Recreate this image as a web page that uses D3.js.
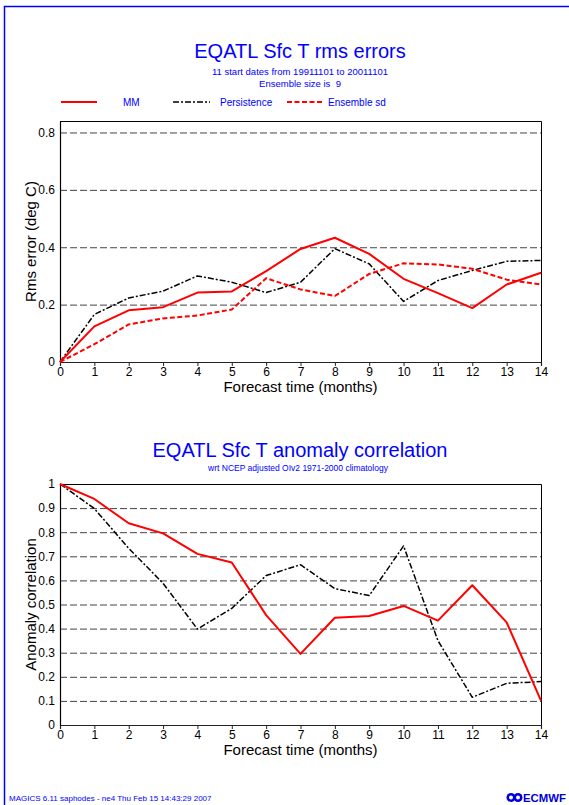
<!DOCTYPE html>
<html>
<head>
<meta charset="utf-8">
<script src="https://cdn.jsdelivr.net/npm/d3@7"></script>
<style>
  html, body { margin: 0; padding: 0; background: #fff; }
  svg { display: block; font-family: "Liberation Sans", Arial, sans-serif; }
</style>
</head>
<body>
<svg id="chart" width="569" height="805"></svg>
<script>
// ---- data ----
const months = [0, 1, 2, 3, 4, 5, 6, 7, 8, 9, 10, 11, 12, 13, 14];
const rmsMM          = [0, 0.124, 0.180, 0.191, 0.242, 0.246, 0.317, 0.394, 0.433, 0.377, 0.290, 0.240, 0.188, 0.270, 0.311];
const rmsPersistence = [0, 0.166, 0.223, 0.247, 0.300, 0.278, 0.242, 0.278, 0.395, 0.342, 0.211, 0.284, 0.319, 0.351, 0.354];
const rmsEnsembleSd  = [0, 0.062, 0.131, 0.152, 0.162, 0.183, 0.292, 0.253, 0.230, 0.307, 0.344, 0.340, 0.325, 0.287, 0.270];
const acMM           = [1, 0.938, 0.837, 0.795, 0.710, 0.674, 0.456, 0.295, 0.445, 0.452, 0.494, 0.433, 0.580, 0.426, 0.101];
const acPersistence  = [1, 0.898, 0.733, 0.588, 0.398, 0.484, 0.620, 0.665, 0.566, 0.537, 0.743, 0.350, 0.115, 0.173, 0.180];
const rmsTicks = [0, 0.2, 0.4, 0.6, 0.8];
const rmsTickLabels = ["0", "0.2", "0.4", "0.6", "0.8"];
const acTicks = [0, 0.1, 0.2, 0.3, 0.4, 0.5, 0.6, 0.7, 0.8, 0.9, 1];
const acTickLabels = ["0", "0.1", "0.2", "0.3", "0.4", "0.5", "0.6", "0.7", "0.8", "0.9", "1"];
const legendNames = ["MM", "Persistence", "Ensemble sd"];

const svg = d3.select("#chart");
const BLUE = "#0000ff";
const styles = {
  mm:   { stroke: "#ff0000", width: 2,   dash: null },
  pers: { stroke: "#000000", width: 1.5, dash: "6,2,2,2" },
  sd:   { stroke: "#ff0000", width: 2,   dash: "5,2.5" }
};

// page frame
svg.append("path").attr("d", "M4.5,805 L4.5,6.5 L569,6.5")
  .attr("fill", "none").attr("stroke", BLUE).attr("stroke-width", 1.5);

function panel(opts) {
  const { top, bottom, left, right, yDomain, ticks, tickLabels, series, yTitle } = opts;
  const x = d3.scaleLinear().domain([0, 14]).range([left, right]);
  const y = d3.scaleLinear().domain(yDomain).range([bottom, top]);
  const g = svg.append("g");

  // grid
  g.selectAll(".grid").data(ticks.filter(t => t > 0 && y(t) > top + 1)).enter()
    .append("line")
    .attr("x1", left).attr("x2", right)
    .attr("y1", d => y(d) + 0.5).attr("y2", d => y(d) + 0.5)
    .attr("stroke", "#444").attr("stroke-width", 1).attr("stroke-dasharray", "7,3");

  // frame top/right
  g.append("path")
    .attr("d", `M${left},${top + 0.5} L${right + 0.5},${top + 0.5} L${right + 0.5},${bottom}`)
    .attr("fill", "none").attr("stroke", "#000").attr("stroke-width", 1);

  // x axis
  const xAxis = d3.axisBottom(x).tickValues(months).tickFormat(d3.format("d")).tickSize(4).tickPadding(1);
  const xa = g.append("g").attr("transform", `translate(0,${bottom})`).call(xAxis);
  xa.select(".domain").attr("stroke", "#222").attr("stroke-width", 1.2);
  xa.selectAll(".tick line").attr("stroke", "#222");
  xa.selectAll("text").attr("font-size", 12).attr("fill", "#000")
    .attr("font-family", "'Liberation Sans', Arial, sans-serif");

  // y axis
  const yAxis = d3.axisLeft(y).tickValues(ticks).tickFormat((d, i) => tickLabels[i]).tickSize(0).tickPadding(5);
  const ya = g.append("g").attr("transform", `translate(${left},0)`).call(yAxis);
  ya.select(".domain").attr("stroke", "#000").attr("stroke-width", 1.2);
  ya.selectAll("text").attr("font-size", 12).attr("fill", "#000")
    .attr("font-family", "'Liberation Sans', Arial, sans-serif");

  // series
  series.forEach(s => {
    const line = d3.line().x((d, i) => x(months[i])).y(d => y(d));
    g.append("path").datum(s.values)
      .attr("d", line).attr("fill", "none")
      .attr("stroke", s.style.stroke).attr("stroke-width", s.style.width)
      .attr("stroke-dasharray", s.style.dash)
      .attr("stroke-linejoin", "round");
  });

  // axis titles
  g.append("text").attr("x", (left + right) / 2).attr("y", bottom + 30)
    .attr("text-anchor", "middle").attr("font-size", 15).attr("fill", "#000")
    .text("Forecast time (months)");
  g.append("text")
    .attr("transform", `translate(36,${(top + bottom) / 2}) rotate(-90)`)
    .attr("text-anchor", "middle").attr("font-size", 15).attr("fill", "#000")
    .text(yTitle);
  return { x, y };
}

// ---- top panel ----
svg.append("text").attr("x", 300).attr("y", 58).attr("text-anchor", "middle")
  .attr("font-size", 20).attr("fill", BLUE).text("EQATL Sfc T rms errors");
svg.append("text").attr("x", 300).attr("y", 75).attr("text-anchor", "middle")
  .attr("font-size", 9.5).attr("fill", BLUE).text("11 start dates from 19911101 to 20011101");
svg.append("text").attr("x", 300).attr("y", 86.5).attr("text-anchor", "middle")
  .attr("font-size", 9.5).attr("fill", BLUE).attr("xml:space", "preserve").text("Ensemble size is  9");

// legend
const legendItems = [
  { name: legendNames[0], style: styles.mm,   x1: 61,  x2: 97,  tx: 123 },
  { name: legendNames[1], style: styles.pers, x1: 173, x2: 210, tx: 220 },
  { name: legendNames[2], style: styles.sd,   x1: 287, x2: 323, tx: 328 }
];
const lg = svg.append("g");
legendItems.forEach(it => {
  lg.append("line").attr("x1", it.x1).attr("x2", it.x2).attr("y1", 102).attr("y2", 102)
    .attr("stroke", it.style.stroke).attr("stroke-width", it.style.width)
    .attr("stroke-dasharray", it.style.dash);
  lg.append("text").attr("x", it.tx).attr("y", 106).attr("font-size", 10)
    .attr("fill", BLUE).text(it.name);
});

panel({
  top: 121, bottom: 362, left: 60, right: 541,
  yDomain: [0, 0.84], ticks: rmsTicks, tickLabels: rmsTickLabels,
  yTitle: "Rms error (deg C)",
  series: [
    { values: rmsPersistence, style: styles.pers },
    { values: rmsEnsembleSd, style: styles.sd },
    { values: rmsMM, style: styles.mm }
  ]
});

// ---- bottom panel ----
svg.append("text").attr("x", 300).attr("y", 457).attr("text-anchor", "middle")
  .attr("font-size", 20).attr("fill", BLUE).text("EQATL Sfc T anomaly correlation");
svg.append("text").attr("x", 298).attr("y", 470.5).attr("text-anchor", "middle")
  .attr("font-size", 8.5).attr("fill", BLUE).text("wrt NCEP adjusted OIv2 1971-2000 climatology");

panel({
  top: 484, bottom: 725, left: 60, right: 541,
  yDomain: [0, 1], ticks: acTicks, tickLabels: acTickLabels,
  yTitle: "Anomaly correlation",
  series: [
    { values: acPersistence, style: styles.pers },
    { values: acMM, style: styles.mm }
  ]
});

// footer
svg.append("text").attr("x", 9).attr("y", 801).attr("font-size", 8)
  .attr("fill", BLUE).text("MAGICS 6.11 saphodes - ne4 Thu Feb 15 14:43:29 2007");
const logo = svg.append("g").attr("fill", "#0000dd");
logo.append("ellipse").attr("cx", 511).attr("cy", 797.5).attr("rx", 4.5).attr("ry", 4.5);
logo.append("ellipse").attr("cx", 518).attr("cy", 797.5).attr("rx", 4.5).attr("ry", 4.5);
logo.append("ellipse").attr("cx", 511).attr("cy", 797.5).attr("rx", 2).attr("ry", 2).attr("fill", "#fff");
logo.append("ellipse").attr("cx", 518).attr("cy", 797.5).attr("rx", 2).attr("ry", 2).attr("fill", "#fff");
logo.append("text").attr("x", 523).attr("y", 802).attr("font-size", 11).attr("font-weight", "bold")
  .attr("textLength", 43).attr("lengthAdjust", "spacingAndGlyphs").text("ECMWF");
</script>
</body>
</html>
